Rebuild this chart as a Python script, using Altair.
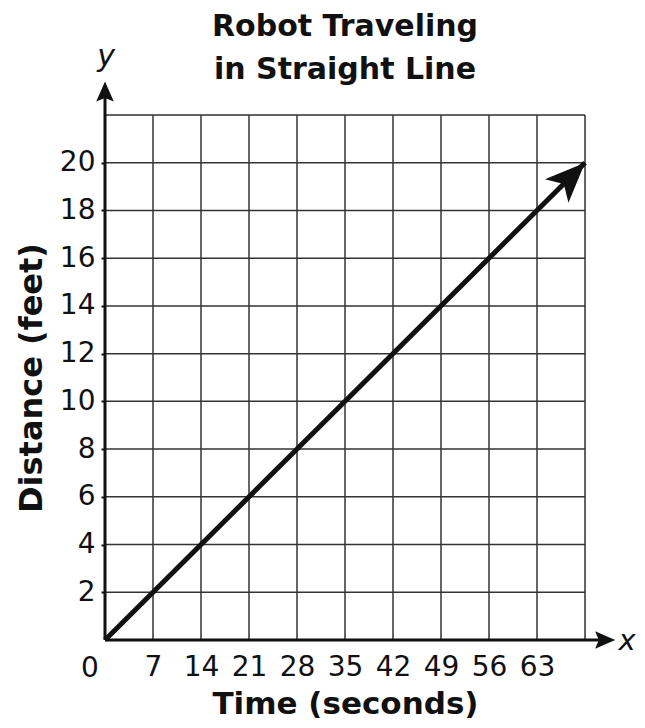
import altair as alt
import pandas as pd

# ---- data ----
title_lines = ["Robot Traveling", "in Straight Line"]
x_title = "Time (seconds)"
y_title = "Distance (feet)"
x_tick_values = [7, 14, 21, 28, 35, 42, 49, 56, 63]
y_tick_values = [2, 4, 6, 8, 10, 12, 14, 16, 18, 20]
grid_x = [7, 14, 21, 28, 35, 42, 49, 56, 63, 70]
grid_y = [2, 4, 6, 8, 10, 12, 14, 16, 18, 20, 22]
line_time = [0, 70]
line_distance = [0, 20]
x_domain = [0, 70]
y_domain = [0, 22]
x_axis_line_end = 72.4   # axis line runs a bit past the grid
y_axis_line_end = 22.9
x_arrow_tip = 74.4
y_arrow_tip = 23.4

FONT = "DejaVu Sans"
INK = "#111111"

xs = alt.Scale(domain=x_domain, nice=False, zero=True)
ys = alt.Scale(domain=y_domain, nice=False, zero=True)

x_axis = alt.Axis(
    values=x_tick_values, title=x_title, grid=False, domain=False, ticks=False,
    labelFont=FONT, labelFontSize=28, labelColor=INK, labelPadding=13,
    labelFlush=False, labelOverlap=False,
    titleFont=FONT, titleFontSize=31, titleFontWeight="bold", titleColor=INK,
    titlePadding=8,
)
y_axis = alt.Axis(
    values=y_tick_values, title=y_title, grid=False, domain=False, ticks=True,
    tickSize=4, tickWidth=2, tickColor=INK,
    labelFont=FONT, labelFontSize=28, labelColor=INK, labelPadding=6,
    labelFlush=False, labelOverlap=False,
    titleFont=FONT, titleFontSize=32, titleFontWeight="bold", titleColor=INK,
    titlePadding=11,
)


def X(field):
    return alt.X(field, type="quantitative", scale=xs, axis=x_axis)


def Y(field):
    return alt.Y(field, type="quantitative", scale=ys, axis=y_axis)


vgrid = alt.Chart(pd.DataFrame({"gx": grid_x})).mark_rule(
    color="#333333", strokeWidth=1.5
).encode(x=X("gx"))

hgrid = alt.Chart(pd.DataFrame({"gy": grid_y})).mark_rule(
    color="#333333", strokeWidth=1.5
).encode(y=Y("gy"))

# axis lines
x_axis_line = alt.Chart(pd.DataFrame({"a": [0], "b": [x_axis_line_end], "c": [0]})).mark_rule(
    color=INK, strokeWidth=3
).encode(x=X("a"), x2="b:Q", y=Y("c"))
y_axis_line = alt.Chart(pd.DataFrame({"a": [0], "b": [y_axis_line_end], "c": [0]})).mark_rule(
    color=INK, strokeWidth=3
).encode(y=Y("a"), y2="b:Q", x=X("c"))

axis_arrow_path = "M0,0 L0.44,1 L0,0.82 L-0.44,1 Z"
axis_arrows = alt.Chart(pd.DataFrame({
    "x": [x_arrow_tip, 0], "y": [0, y_arrow_tip], "ang": [90, 0]
})).mark_point(
    shape=axis_arrow_path, filled=True, size=1600, color=INK, opacity=1, strokeWidth=0
).encode(x=X("x"), y=Y("y"), angle=alt.Angle("ang:Q", scale=None))

df_line = pd.DataFrame({"t": line_time, "d": line_distance})
line = alt.Chart(df_line).mark_line(color=INK, strokeWidth=5, strokeCap="butt").encode(
    x=X("t"), y=Y("d")
)

line_arrow_path = "M0,0 L0.83,2 L0,1.5 L-0.83,2 Z"
line_arrow = alt.Chart(df_line.tail(1)).mark_point(
    shape=line_arrow_path, filled=True, size=1600, color=INK, opacity=1,
    strokeWidth=0, angle=45
).encode(x=X("t"), y=Y("d"))

# axis letters and origin label
origin_label = alt.Chart(pd.DataFrame({"x": [0], "y": [0]})).mark_text(
    text="0", font=FONT, fontSize=28, color=INK, align="center",
    baseline="alphabetic", dx=-15, dy=37
).encode(x=X("x"), y=Y("y"))

x_letter = alt.Chart(pd.DataFrame({"x": [x_domain[1]], "y": [0]})).mark_text(
    text="x", font=FONT, fontSize=29, fontStyle="italic", color=INK, align="center",
    baseline="alphabetic", dx=42, dy=10
).encode(x=X("x"), y=Y("y"))

y_letter = alt.Chart(pd.DataFrame({"x": [0], "y": [y_domain[1]]})).mark_text(
    text="y", font=FONT, fontSize=30, fontStyle="italic", color=INK, align="center",
    baseline="alphabetic", dx=1, dy=-49
).encode(x=X("x"), y=Y("y"))

chart = alt.layer(
    vgrid, hgrid, x_axis_line, y_axis_line, axis_arrows, line, line_arrow,
    origin_label, x_letter, y_letter,
).properties(
    width=480, height=525,
    title=alt.TitleParams(
        text=title_lines, font=FONT, fontSize=30, fontWeight="bold", color=INK,
        lineHeight=43, anchor="middle", offset=-43,
    ),
    autosize=alt.AutoSizeParams(type="none"),
    padding={"left": 97, "top": 107, "right": 52, "bottom": 79},
).configure_view(stroke=None).configure(background="white")

chart.save("out.html", embed_options={"renderer": "svg", "actions": False})
